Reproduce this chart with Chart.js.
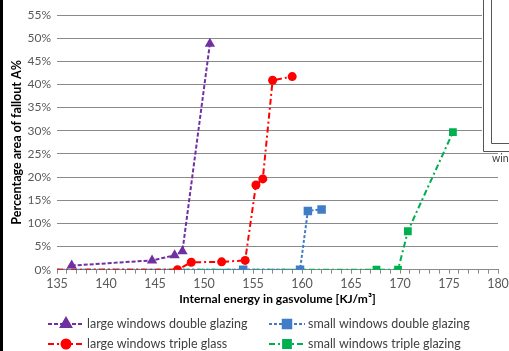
<!DOCTYPE html>
<html>
<head>
<meta charset="utf-8">
<script src="https://cdn.jsdelivr.net/npm/chart.js@4.4.1/dist/chart.umd.min.js"></script>
<style>
  html, body { margin: 0; padding: 0; background: #fff; }
  #wrap { width: 509px; height: 351px; position: relative; }
</style>
</head>
<body>
<div id="wrap"><canvas id="fallChart" width="509" height="351"></canvas></div>
<script>
// values
const xTickMin = 135;
const xTickMax = 180;
const yTickMax = 55;

const largeDoubleX = [136.5, 144.7, 147.0, 147.8, 150.6];
const largeDoubleY = [0.9, 2.0, 3.1, 4.0, 48.8];

const largeTripleX = [135, 147.3, 148.7, 151.8, 154.2, 155.3, 156.0, 157.0, 159.0];
const largeTripleY = [0, 0, 1.6, 1.7, 2.0, 18.3, 19.6, 40.9, 41.7];

const smallDoubleX = [135, 154.0, 159.8, 160.6, 162.0];
const smallDoubleY = [0, 0, 0, 12.7, 13.0];

const smallTripleX = [135, 167.6, 169.8, 170.8, 175.4];
const smallTripleY = [0, 0, 0, 8.3, 29.7];

const seriesLabels = [
  "large windows double glazing",
  "small windows double glazing",
  "large windows triple glass",
  "small windows triple glazing"
];

function pts(xs, ys) {
  return xs.map((x, i) => ({ x: x, y: ys[i] }));
}
// first point at 135 only carries the line, no marker
function radii(xs, r) {
  return xs.map(x => (x === 135 ? 0 : r));
}

const FONT = "Lato, 'Open Sans', sans-serif";

// legend drawn by hand so the sample shows dash + marker like the original
const legendPlugin = {
  id: "handLegend",
  afterDraw(chart) {
    const ctx = chart.ctx;
    const slots = [
      { x: 48, y: 324 }, { x: 269, y: 324 },
      { x: 48, y: 344 }, { x: 269, y: 344 }
    ];
    chart.data.datasets.forEach((ds, i) => {
      const s = slots[i];
      ctx.save();
      ctx.strokeStyle = ds.borderColor;
      ctx.lineWidth = 2;
      ctx.setLineDash(ds.borderDash);
      ctx.beginPath();
      ctx.moveTo(s.x, s.y);
      ctx.lineTo(s.x + 36, s.y);
      ctx.stroke();
      ctx.setLineDash([]);
      Chart.helpers.drawPoint(ctx, {
        pointStyle: ds.pointStyle,
        radius: ds.legendRadius,
        rotation: 0,
        borderWidth: 1
      }, s.x + 18, s.y);
      ctx.fillStyle = ds.borderColor;
      ctx.fill();
      ctx.fillStyle = "#404040";
      ctx.font = "12.5px " + FONT;
      ctx.textBaseline = "middle";
      ctx.fillText(ds.label, s.x + 39, s.y);
      ctx.restore();
    });

    // page frame and the neighbouring chart box cut off on the right
    ctx.save();
    ctx.fillStyle = "#000";
    ctx.fillRect(0, 0, 3, 351);
    ctx.fillStyle = "#fff";
    ctx.fillRect(482, 0, 27, 152);
    ctx.strokeStyle = "#555";
    ctx.lineWidth = 1;
    ctx.beginPath();
    ctx.moveTo(483.5, 0); ctx.lineTo(483.5, 151.5); ctx.lineTo(509, 151.5);
    ctx.moveTo(491.5, 0); ctx.lineTo(491.5, 143.5); ctx.lineTo(509, 143.5);
    ctx.stroke();
    ctx.fillStyle = "#404040";
    ctx.font = "10.5px " + FONT;
    ctx.textBaseline = "middle";
    ctx.fillText("windows", 492, 159);
    ctx.restore();
  }
};

new Chart(document.getElementById("fallChart").getContext("2d"), {
  type: "line",
  data: {
    datasets: [
      {
        label: seriesLabels[0],
        data: pts(largeDoubleX, largeDoubleY),
        borderColor: "#7030A0",
        backgroundColor: "#7030A0",
        borderDash: [4, 2],
        pointStyle: "triangle",
        pointRadius: radii(largeDoubleX, 6),
        legendRadius: 6,
        order: 1
      },
      {
        label: seriesLabels[1],
        data: pts(smallDoubleX, smallDoubleY),
        borderColor: "#3F7EC6",
        backgroundColor: "#3F7EC6",
        borderDash: [3, 2],
        pointStyle: "rect",
        pointRadius: radii(smallDoubleX, 6),
        legendRadius: 6,
        order: 3
      },
      {
        label: seriesLabels[2],
        data: pts(largeTripleX, largeTripleY),
        borderColor: "#FF0000",
        backgroundColor: "#FF0000",
        borderDash: [6, 3, 2, 3],
        pointStyle: "circle",
        pointRadius: radii(largeTripleX, 4.5),
        legendRadius: 4.5,
        order: 2
      },
      {
        label: seriesLabels[3],
        data: pts(smallTripleX, smallTripleY),
        borderColor: "#00B050",
        backgroundColor: "#00B050",
        borderDash: [6, 3, 2, 3],
        pointStyle: "rect",
        pointRadius: radii(smallTripleX, 5.5),
        legendRadius: 5.5,
        order: 4
      }
    ]
  },
  options: {
    responsive: false,
    animation: false,
    elements: {
      line: { borderWidth: 2, tension: 0, fill: false },
      point: { borderWidth: 0, hoverRadius: 6 }
    },
    layout: { padding: { left: 9, right: 11, top: 15, bottom: 46 } },
    plugins: {
      legend: { display: false },
      tooltip: { enabled: false }
    },
    scales: {
      x: {
        type: "linear",
        min: xTickMin,
        max: xTickMax,
        afterBuildTicks: (s) => {
          s.ticks = [];
          for (let v = xTickMin; v <= xTickMax; v++) s.ticks.push({ value: v });
        },
        afterFit: (s) => { s.paddingLeft = 0; s.paddingRight = 0; },
        ticks: {
          autoSkip: false,
          maxRotation: 0,
          padding: 4,
          color: "#595959",
          font: { family: FONT, size: 12.5, lineHeight: 1.0 },
          callback: (v) => (v % 5 === 0 ? String(v) : "")
        },
        grid: {
          drawOnChartArea: false,
          drawTicks: true,
          tickLength: 4,
          color: "#8a8a8a"
        },
        border: { display: true, color: "#8a8a8a" },
        title: {
          display: true,
          text: "Internal energy in gasvolume [KJ/m³]",
          color: "#000",
          font: { family: FONT, size: 12, weight: "bold", lineHeight: 0.9 },
          padding: 0
        }
      },
      y: {
        min: 0,
        max: yTickMax,
        afterFit: (s) => { s.width = 48; },
        ticks: {
          stepSize: 5,
          padding: 6,
          color: "#595959",
          font: { family: FONT, size: 12 },
          callback: (v) => v + "%"
        },
        grid: { color: "#8a8a8a", drawTicks: false },
        border: { display: false },
        title: {
          display: true,
          text: "Percentage area of fallout A%",
          color: "#000",
          font: { family: FONT, size: 12.5, weight: "bold" },
          padding: { top: 0, bottom: 4 }
        }
      }
    }
  },
  plugins: [legendPlugin]
});
</script>
</body>
</html>
